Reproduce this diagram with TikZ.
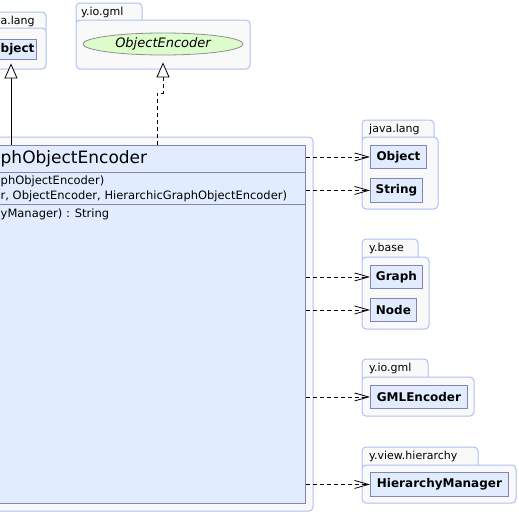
\documentclass[tikz,border=0pt]{standalone}
\usepackage{fontspec}
\setmainfont{DejaVu Sans}
\usetikzlibrary{arrows.meta,shapes.geometric}
\definecolor{pkgborder}{HTML}{B0BEF6}
\definecolor{pkgfill}{HTML}{F9F9F9}
\definecolor{clsborder}{HTML}{8484BC}
\definecolor{clsfill}{HTML}{E1EDFF}
\definecolor{ifill}{HTML}{DCFCCC}
\definecolor{iborder}{HTML}{909090}
\begin{document}
\begin{tikzpicture}[x=1pt,y=-1pt,
  pkg/.style={draw=pkgborder, fill=pkgfill, rounded corners=4pt, line width=1pt},
  cls/.style={draw=clsborder, fill=clsfill, line width=0.9pt, inner sep=0pt, anchor=north west,
    font=\fontsize{12}{14}\selectfont\bfseries},
  pkglabel/.style={font=\fontsize{11}{13}\selectfont, inner sep=0pt, anchor=base west},
  member/.style={font=\fontsize{11.5}{13}\selectfont, inner sep=0pt, anchor=base west},
  dep/.style={dash pattern=on 4pt off 3pt, -{Straight Barb[length=14pt,width=8pt]}, line width=0.8pt},
  inh/.style={line width=0.8pt, -{Triangle[open,length=15pt,width=13pt,fill=white]}},
]
\useasboundingbox (0,0) rectangle (519,514);
\clip (0,0) rectangle (519,514);

% ---- left java.lang (cut) ----
\draw[pkg] (-26,12) rectangle (46,34);
\draw[pkg] (-30,28) rectangle (46,69);
\node[pkglabel] (lbljl) at (0.5,24) {a.lang};
\node[cls, minimum width=52pt, minimum height=20pt, anchor=center] (objL) at (10,49) {};
\node[font=\fontsize{12}{14}\selectfont\bfseries, inner sep=0pt, anchor=west] (objLt) at (0.5,49) {bject};

% ---- top y.io.gml ----
\draw[pkg] (76,3) rectangle (142,24);
\draw[pkg] (76,20) rectangle (250,69);
\node[pkglabel] (lblgml1) at (81,16) {y.io.gml};
\node[ellipse, draw=iborder, fill=ifill, line width=0.8pt, minimum width=160pt, minimum height=22pt,
  inner sep=0pt, font=\fontsize{13}{15}\selectfont\itshape] (enc) at (163,44) {ObjectEncoder};

% ---- main package and class ----
\draw[pkg] (-10,137) rectangle (313,511);
\node[draw=clsborder, fill=clsfill, line width=0.9pt, minimum width=315pt, minimum height=358pt,
  inner sep=0pt, anchor=north west] (main) at (-10,145) {};
\draw[clsborder, line width=0.9pt] (-10,172) -- (305,172);
\draw[clsborder, line width=0.9pt] (-10,204) -- (305,204);
\node[font=\fontsize{17}{19}\selectfont, inner sep=0pt, anchor=base west] (title) at (0.5,163) {phObjectEncoder};
\node[member] (m1) at (0.5,184) {phObjectEncoder)};
\node[member] (m2) at (0.5,199) {r, ObjectEncoder, HierarchicGraphObjectEncoder)};
\node[member] (m3) at (0.5,217) {yManager) : String};

% ---- right java.lang ----
\draw[pkg] (362,120) rectangle (434,141);
\draw[pkg] (362,137) rectangle (438,209);
\node[pkglabel] (lbljl2) at (369,132) {java.lang};
\node[cls, minimum width=56pt, minimum height=23pt] (jobj) at (370,145) {Object};
\node[cls, minimum width=52pt, minimum height=24pt] (jstr) at (370,178) {String};

% ---- y.base ----
\draw[pkg] (362,239) rectangle (418,261);
\draw[pkg] (362,257) rectangle (429,329);
\node[pkglabel] (lblbase) at (369,251) {y.base};
\node[cls, minimum width=52pt, minimum height=23pt] (graph) at (370,265) {Graph};
\node[cls, minimum width=46pt, minimum height=23pt] (node) at (370,298) {Node};

% ---- y.io.gml (right) ----
\draw[pkg] (362,359) rectangle (428,381);
\draw[pkg] (362,377) rectangle (474,416);
\node[pkglabel] (lblgml2) at (369,371) {y.io.gml};
\node[cls, minimum width=97pt, minimum height=23pt] (gml) at (370,385) {GMLEncoder};

% ---- y.view.hierarchy ----
\draw[pkg] (362,447) rectangle (478,469);
\draw[pkg] (362,465) rectangle (516,503);
\node[pkglabel] (lblhier) at (369,459) {y.view.hierarchy};
\node[cls, minimum width=138pt, minimum height=24pt] (hm) at (370,472) {HierarchyManager};

% ---- dependencies ----
\foreach \t in {jobj,jstr,graph,node,gml,hm}
  \draw[dep] (main.east |- \t.west) -- (\t.west);

% ---- generalisation / realisation ----
\coordinate (l1) at (11,145);
\draw[inh, shorten >=4pt] (l1) -- (l1 |- objL.south);
\coordinate (r1) at (157,145);
\draw[inh, dash pattern=on 4pt off 3pt, shorten >=7pt] (r1) -- ++(0,-52) -| (enc.south);
\end{tikzpicture}
\end{document}
